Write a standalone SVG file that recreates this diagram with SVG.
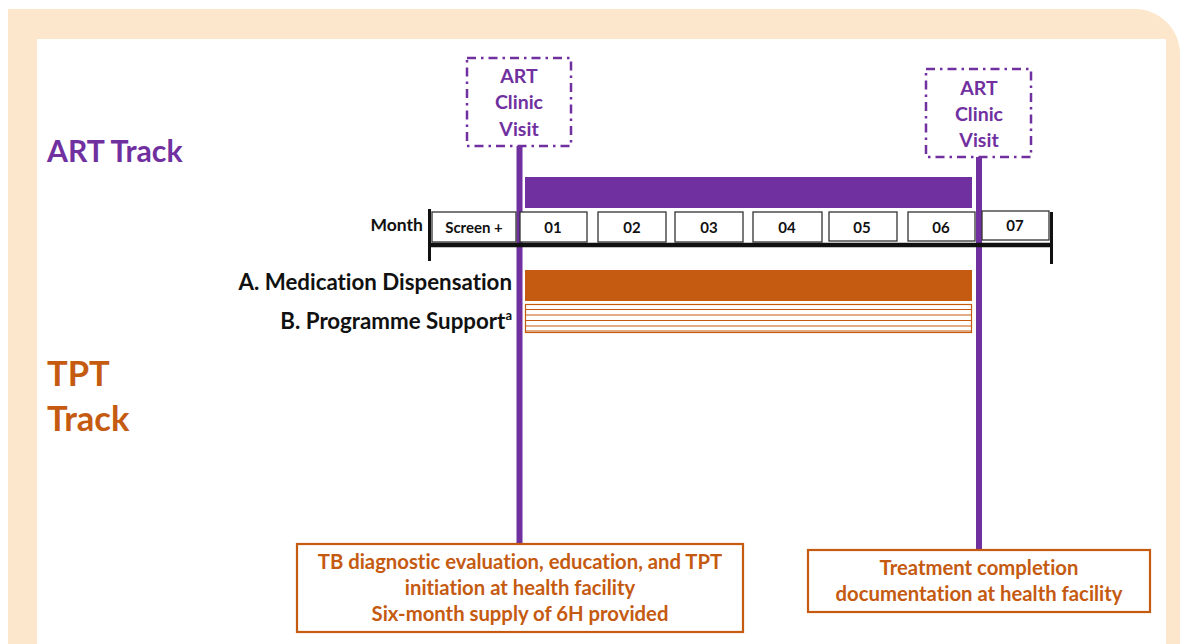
<svg xmlns="http://www.w3.org/2000/svg" width="1180" height="644" viewBox="0 0 1180 644">
<style>
text{font-variant-ligatures:none}
.purple{fill:#7030A0}
.orange{fill:#C55A11}
.lbl{font-family:Lato,"Liberation Sans",sans-serif;font-weight:bold}
.visit{fill:#fff;stroke:#7030A0;stroke-width:2.5;stroke-dasharray:9 5 2.5 5}
.vline{stroke:#7030A0;stroke-width:6;fill:none}
.mbox{fill:#fff;stroke:#333;stroke-width:1.3}
.mtxt{font-family:Lato,"Liberation Sans",sans-serif;font-weight:bold;font-size:15px;fill:#111;text-anchor:middle}
.obox{fill:#fff;stroke:#C55A11;stroke-width:2.2}
.otxt{font-family:Lato,"Liberation Sans",sans-serif;font-weight:bold;font-size:20.3px;fill:#C55A11;text-anchor:middle}
.hatch{stroke:#C55A11;stroke-width:1.2}
</style>
<rect width="1180" height="644" fill="#fff"/>
<path d="M8 9 H1135 A45 45 0 0 1 1180 54 V644 H8 Z" fill="#FDE7CC"/>
<rect x="37" y="39" width="1129" height="610" fill="#fff"/>

<g id="titles">
<text class="lbl purple" x="47" y="162" font-size="30.2">ART Track</text>
<text class="lbl orange" x="47" y="386" font-size="34.5">TPT</text>
<text class="lbl orange" x="47" y="431" font-size="34.5">Track</text>
</g>

<g id="connectors">
<line class="vline" x1="519.5" y1="146" x2="519.5" y2="544"/>
<line class="vline" x1="979" y1="157" x2="979" y2="550"/>
</g>

<g id="visit1">
<rect class="visit" x="467" y="58" width="104" height="88"/>
<text class="lbl purple" x="519" y="83" font-size="19.5" text-anchor="middle">ART</text>
<text class="lbl purple" x="519" y="109" font-size="19.5" text-anchor="middle">Clinic</text>
<text class="lbl purple" x="519" y="136" font-size="19.5" text-anchor="middle">Visit</text>
</g>
<g id="visit2">
<rect class="visit" x="926" y="69" width="105" height="88"/>
<text class="lbl purple" x="979" y="95" font-size="19.5" text-anchor="middle">ART</text>
<text class="lbl purple" x="979" y="121" font-size="19.5" text-anchor="middle">Clinic</text>
<text class="lbl purple" x="979" y="147" font-size="19.5" text-anchor="middle">Visit</text>
</g>

<g id="art-bar">
<rect x="525" y="177" width="447" height="31" fill="#7030A0"/>
</g>

<g id="timeline">
<text class="lbl" x="423" y="231" font-size="17.5" text-anchor="end" fill="#111">Month</text>
<rect class="mbox" x="432" y="212" width="84" height="30"/>
<text class="mtxt" x="474" y="233" font-size="14">Screen +</text>
<rect class="mbox" x="520" y="212" width="67" height="30"/>
<text class="mtxt" x="553" y="233">01</text>
<rect class="mbox" x="598" y="212" width="68" height="30"/>
<text class="mtxt" x="632" y="233">02</text>
<rect class="mbox" x="675" y="212" width="68" height="30"/>
<text class="mtxt" x="709" y="233">03</text>
<rect class="mbox" x="753" y="212" width="69" height="30"/>
<text class="mtxt" x="787" y="233">04</text>
<rect class="mbox" x="829" y="212" width="68" height="29"/>
<text class="mtxt" x="862" y="233">05</text>
<rect class="mbox" x="908" y="212" width="67" height="29"/>
<text class="mtxt" x="941" y="233">06</text>
<rect class="mbox" x="982" y="211" width="67" height="29"/>
<text class="mtxt" x="1015" y="231">07</text>
<line x1="429" y1="245" x2="1052" y2="245" stroke="#111" stroke-width="4.5"/>
<line x1="429.5" y1="209" x2="429.5" y2="261" stroke="#111" stroke-width="3"/>
<line x1="1051.5" y1="212" x2="1051.5" y2="264" stroke="#111" stroke-width="3"/>
</g>

<g id="medication">
<text class="lbl" x="512" y="290" font-size="22.3" text-anchor="end" fill="#111">A. Medication Dispensation</text>
<rect x="525" y="270" width="447" height="31" fill="#C55A11"/>
</g>

<g id="support">
<text class="lbl" x="512" y="329" font-size="22.3" text-anchor="end" fill="#111">B. Programme Support<tspan font-size="13" dy="-9">a</tspan></text>
<rect x="525.5" y="304.5" width="446" height="28" fill="#fff" stroke="#C55A11" stroke-width="1.2"/>
<line class="hatch" x1="525.5" y1="309.5" x2="971.5" y2="309.5"/>
<line class="hatch" x1="525.5" y1="315" x2="971.5" y2="315"/>
<line class="hatch" x1="525.5" y1="320.5" x2="971.5" y2="320.5"/>
<line class="hatch" x1="525.5" y1="326" x2="971.5" y2="326"/>
<line class="hatch" x1="525.5" y1="331" x2="971.5" y2="331"/>
</g>

<g id="start-box">
<rect class="obox" x="297" y="544" width="446" height="88"/>
<text class="otxt" x="520" y="569">TB diagnostic evaluation, education, and TPT</text>
<text class="otxt" x="520" y="595">initiation at health facility</text>
<text class="otxt" x="520" y="621">Six-month supply of 6H provided</text>
</g>

<g id="end-box">
<rect class="obox" x="808" y="550" width="342" height="62"/>
<text class="otxt" x="979" y="575">Treatment completion</text>
<text class="otxt" x="979" y="601">documentation at health facility</text>
</g>
</svg>
